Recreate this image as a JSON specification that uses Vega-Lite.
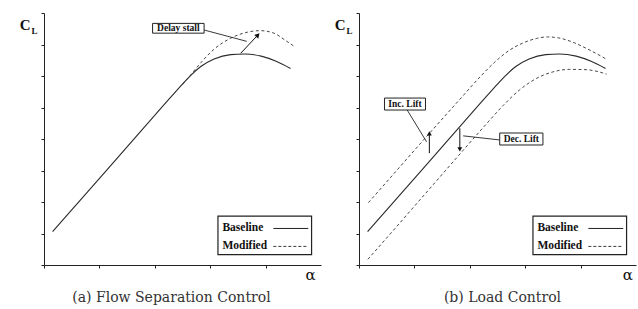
{
  "$schema": "https://vega.github.io/schema/vega-lite/v6.json",
  "padding": {"left": 19, "top": 12, "right": 3, "bottom": 0},
  "background": "white",
  "bounds": "flush",
  "spacing": 38,
  "config": {
    "view": {"stroke": null},
    "axis": {"labels": false, "title": null, "grid": false, "domainColor": "#222", "tickColor": "#222", "tickSize": 3, "domainWidth": 1, "tickWidth": 1},
    "text": {"font": "Liberation Serif", "color": "#111"}
  },
  "datasets": {
    "curves": [
      {"panel": "a", "series": "Baseline", "x": 0.155, "y": 1.06},
      {"panel": "a", "series": "Baseline", "x": 0.6, "y": 1.95},
      {"panel": "a", "series": "Baseline", "x": 1.2, "y": 3.15},
      {"panel": "a", "series": "Baseline", "x": 1.8, "y": 4.35},
      {"panel": "a", "series": "Baseline", "x": 2.3, "y": 5.35},
      {"panel": "a", "series": "Baseline", "x": 2.5, "y": 5.74},
      {"panel": "a", "series": "Baseline", "x": 2.65, "y": 6.02},
      {"panel": "a", "series": "Baseline", "x": 2.83, "y": 6.3},
      {"panel": "a", "series": "Baseline", "x": 3.07, "y": 6.54},
      {"panel": "a", "series": "Baseline", "x": 3.37, "y": 6.68},
      {"panel": "a", "series": "Baseline", "x": 3.62, "y": 6.7},
      {"panel": "a", "series": "Baseline", "x": 3.92, "y": 6.63},
      {"panel": "a", "series": "Baseline", "x": 4.2, "y": 6.46},
      {"panel": "a", "series": "Baseline", "x": 4.45, "y": 6.24},
      {"panel": "a", "series": "Modified", "x": 2.5, "y": 5.74},
      {"panel": "a", "series": "Modified", "x": 2.65, "y": 6.04},
      {"panel": "a", "series": "Modified", "x": 2.83, "y": 6.42},
      {"panel": "a", "series": "Modified", "x": 3.07, "y": 6.85},
      {"panel": "a", "series": "Modified", "x": 3.37, "y": 7.2},
      {"panel": "a", "series": "Modified", "x": 3.67, "y": 7.39},
      {"panel": "a", "series": "Modified", "x": 3.9, "y": 7.44},
      {"panel": "a", "series": "Modified", "x": 4.15, "y": 7.36},
      {"panel": "a", "series": "Modified", "x": 4.35, "y": 7.14},
      {"panel": "a", "series": "Modified", "x": 4.5, "y": 6.96},
      {"panel": "b", "series": "Baseline", "x": 0.155, "y": 1.06},
      {"panel": "b", "series": "Baseline", "x": 0.6, "y": 1.95},
      {"panel": "b", "series": "Baseline", "x": 1.2, "y": 3.15},
      {"panel": "b", "series": "Baseline", "x": 1.8, "y": 4.35},
      {"panel": "b", "series": "Baseline", "x": 2.3, "y": 5.35},
      {"panel": "b", "series": "Baseline", "x": 2.5, "y": 5.74},
      {"panel": "b", "series": "Baseline", "x": 2.65, "y": 6.02},
      {"panel": "b", "series": "Baseline", "x": 2.83, "y": 6.3},
      {"panel": "b", "series": "Baseline", "x": 3.07, "y": 6.54},
      {"panel": "b", "series": "Baseline", "x": 3.37, "y": 6.68},
      {"panel": "b", "series": "Baseline", "x": 3.62, "y": 6.7},
      {"panel": "b", "series": "Baseline", "x": 3.92, "y": 6.63},
      {"panel": "b", "series": "Baseline", "x": 4.2, "y": 6.46},
      {"panel": "b", "series": "Baseline", "x": 4.45, "y": 6.24},
      {"panel": "b", "series": "Increased", "x": 0.17, "y": 1.98},
      {"panel": "b", "series": "Increased", "x": 0.6, "y": 2.84},
      {"panel": "b", "series": "Increased", "x": 1.2, "y": 4.04},
      {"panel": "b", "series": "Increased", "x": 1.8, "y": 5.22},
      {"panel": "b", "series": "Increased", "x": 2.2, "y": 6.0},
      {"panel": "b", "series": "Increased", "x": 2.45, "y": 6.44},
      {"panel": "b", "series": "Increased", "x": 2.7, "y": 6.8},
      {"panel": "b", "series": "Increased", "x": 2.95, "y": 7.04},
      {"panel": "b", "series": "Increased", "x": 3.2, "y": 7.19},
      {"panel": "b", "series": "Increased", "x": 3.4, "y": 7.24},
      {"panel": "b", "series": "Increased", "x": 3.6, "y": 7.21},
      {"panel": "b", "series": "Increased", "x": 3.85, "y": 7.08},
      {"panel": "b", "series": "Increased", "x": 4.1, "y": 6.88},
      {"panel": "b", "series": "Increased", "x": 4.48, "y": 6.52},
      {"panel": "b", "series": "Decreased", "x": 0.16, "y": 0.18},
      {"panel": "b", "series": "Decreased", "x": 0.6, "y": 1.06},
      {"panel": "b", "series": "Decreased", "x": 1.2, "y": 2.27},
      {"panel": "b", "series": "Decreased", "x": 1.82, "y": 3.52},
      {"panel": "b", "series": "Decreased", "x": 2.3, "y": 4.48},
      {"panel": "b", "series": "Decreased", "x": 2.6, "y": 5.06},
      {"panel": "b", "series": "Decreased", "x": 2.9, "y": 5.56},
      {"panel": "b", "series": "Decreased", "x": 3.2, "y": 5.92},
      {"panel": "b", "series": "Decreased", "x": 3.5, "y": 6.13},
      {"panel": "b", "series": "Decreased", "x": 3.8, "y": 6.21},
      {"panel": "b", "series": "Decreased", "x": 4.1, "y": 6.2},
      {"panel": "b", "series": "Decreased", "x": 4.47, "y": 6.06}
    ],
    "annBox": [
      {"panel": "a", "label": "Delay stall", "x": 1.96, "x2": 2.89, "y": 7.36, "y2": 7.67, "cx": 2.425, "cy": 7.515},
      {"panel": "b", "label": "Inc. Lift", "x": 0.46, "x2": 1.2, "y": 4.92, "y2": 5.3, "cx": 0.83, "cy": 5.11},
      {"panel": "b", "label": "Dec. Lift", "x": 2.54, "x2": 3.32, "y": 3.81, "y2": 4.19, "cx": 2.93, "cy": 4.0}
    ],
    "leaders": [
      {"panel": "a", "x": 2.89, "y": 7.46, "x2": 3.66, "y2": 7.1},
      {"panel": "b", "x": 0.87, "y": 4.92, "x2": 1.22, "y2": 3.91},
      {"panel": "b", "x": 2.54, "y": 3.97, "x2": 1.88, "y2": 4.1}
    ],
    "arrows": [
      {"panel": "a", "dir": "diag", "x": 3.55, "y": 6.72, "x2": 3.86, "y2": 7.3},
      {"panel": "b", "dir": "up", "x": 1.27, "y": 3.55, "x2": 1.27, "y2": 4.18},
      {"panel": "b", "dir": "down", "x": 1.82, "y": 4.34, "x2": 1.82, "y2": 3.67}
    ],
    "legendBox": [{"x": 3.14, "x2": 4.83, "y": 0.33, "y2": 1.55}],
    "legendItems": [
      {"label": "Baseline", "kind": "solid", "x": 3.22, "y": 1.16, "sx": 4.14, "sx2": 4.77},
      {"label": "Modified", "kind": "dashed", "x": 3.22, "y": 0.59, "sx": 4.14, "sx2": 4.77}
    ],
    "labels": [
      {"panel": "a", "role": "C", "text": "C", "x": -0.34, "y": 7.62},
      {"panel": "a", "role": "L", "text": "L", "x": -0.17, "y": 7.42},
      {"panel": "a", "role": "alpha", "text": "α", "x": 4.81, "y": -0.32},
      {"panel": "a", "role": "caption", "text": "(a) Flow Separation Control", "x": 2.3, "y": -1.04},
      {"panel": "b", "role": "C", "text": "C", "x": -0.34, "y": 7.62},
      {"panel": "b", "role": "L", "text": "L", "x": -0.17, "y": 7.42},
      {"panel": "b", "role": "alpha", "text": "α", "x": 4.85, "y": -0.32},
      {"panel": "b", "role": "caption", "text": "(b) Load Control", "x": 2.59, "y": -1.04}
    ]
  },
  "hconcat": [
    {
      "width": 277,
      "height": 252,
      "encoding": {
        "x": {"field": "x", "type": "quantitative", "scale": {"domain": [0, 5], "nice": false, "zero": false}, "axis": {"values": [0, 1, 2, 3, 4]}},
        "y": {"field": "y", "type": "quantitative", "scale": {"domain": [0, 8], "nice": false, "zero": false}, "axis": {"values": [0, 1, 2, 3, 4, 5, 6, 7, 8]}}
      },
      "layer": [
        {"data": {"name": "legendBox"}, "mark": {"type": "rect", "fill": "white", "stroke": "#222", "strokeWidth": 1.2}, "encoding": {"x2": {"field": "x2"}, "y2": {"field": "y2"}}},
        {"data": {"name": "legendItems"}, "mark": {"type": "text", "align": "left", "baseline": "middle", "fontWeight": "bold", "fontSize": 11.5}, "encoding": {"text": {"field": "label"}}},
        {"data": {"name": "legendItems"}, "transform": [{"filter": "datum.kind == 'solid'"}], "mark": {"type": "rule", "stroke": "#222", "strokeWidth": 1}, "encoding": {"x": {"field": "sx"}, "x2": {"field": "sx2"}}},
        {"data": {"name": "legendItems"}, "transform": [{"filter": "datum.kind == 'dashed'"}], "mark": {"type": "rule", "stroke": "#222", "strokeWidth": 0.9, "strokeDash": [3, 2]}, "encoding": {"x": {"field": "sx"}, "x2": {"field": "sx2"}}},
        {"data": {"name": "curves"}, "transform": [{"filter": "datum.panel == 'a' && datum.series == 'Baseline'"}], "mark": {"type": "line", "interpolate": "monotone", "stroke": "#2a2a2a", "strokeWidth": 1.1}},
        {"data": {"name": "curves"}, "transform": [{"filter": "datum.panel == 'a' && datum.series != 'Baseline'"}], "mark": {"type": "line", "interpolate": "monotone", "stroke": "#333", "strokeWidth": 0.9, "strokeDash": [3, 2.5]}, "encoding": {"detail": {"field": "series"}}},
        {"data": {"name": "leaders"}, "transform": [{"filter": "datum.panel == 'a'"}], "mark": {"type": "rule", "stroke": "#222", "strokeWidth": 0.9}, "encoding": {"x2": {"field": "x2"}, "y2": {"field": "y2"}}},
        {"data": {"name": "annBox"}, "transform": [{"filter": "datum.panel == 'a'"}], "mark": {"type": "rect", "fill": "white", "stroke": "#222", "strokeWidth": 1}, "encoding": {"x2": {"field": "x2"}, "y2": {"field": "y2"}}},
        {"data": {"name": "annBox"}, "transform": [{"filter": "datum.panel == 'a'"}], "mark": {"type": "text", "align": "center", "baseline": "middle", "fontWeight": "bold", "fontSize": 9.5}, "encoding": {"x": {"field": "cx"}, "y": {"field": "cy"}, "text": {"field": "label"}}},
        {"data": {"name": "arrows"}, "transform": [{"filter": "datum.panel == 'a'"}], "mark": {"type": "rule", "stroke": "#111", "strokeWidth": 1}, "encoding": {"x2": {"field": "x2"}, "y2": {"field": "y2"}}},
        {"data": {"name": "arrows"}, "transform": [{"filter": "datum.panel == 'a'"}], "mark": {"type": "point", "shape": "triangle-up", "filled": true, "size": 30, "color": "#111", "opacity": 1, "angle": 43}, "encoding": {"x": {"field": "x2"}, "y": {"field": "y2"}}},
        {"data": {"name": "labels"}, "transform": [{"filter": "datum.panel == 'a' && datum.role == 'C'"}], "mark": {"type": "text", "align": "center", "baseline": "middle", "fontWeight": "bold", "fontSize": 15}, "encoding": {"text": {"field": "text"}}},
        {"data": {"name": "labels"}, "transform": [{"filter": "datum.panel == 'a' && datum.role == 'L'"}], "mark": {"type": "text", "align": "center", "baseline": "middle", "fontWeight": "bold", "fontSize": 9}, "encoding": {"text": {"field": "text"}}},
        {"data": {"name": "labels"}, "transform": [{"filter": "datum.panel == 'a' && datum.role == 'alpha'"}], "mark": {"type": "text", "align": "center", "baseline": "middle", "font": "DejaVu Serif", "fontSize": 15}, "encoding": {"text": {"field": "text"}}},
        {"data": {"name": "labels"}, "transform": [{"filter": "datum.panel == 'a' && datum.role == 'caption'"}], "mark": {"type": "text", "align": "center", "baseline": "middle", "font": "DejaVu Serif", "fontSize": 14, "color": "#333"}, "encoding": {"text": {"field": "text"}}}
      ]
    },
    {
      "width": 277,
      "height": 252,
      "encoding": {
        "x": {"field": "x", "type": "quantitative", "scale": {"domain": [0, 5], "nice": false, "zero": false}, "axis": {"values": [0, 1, 2, 3, 4]}},
        "y": {"field": "y", "type": "quantitative", "scale": {"domain": [0, 8], "nice": false, "zero": false}, "axis": {"values": [0, 1, 2, 3, 4, 5, 6, 7, 8]}}
      },
      "layer": [
        {"data": {"name": "legendBox"}, "mark": {"type": "rect", "fill": "white", "stroke": "#222", "strokeWidth": 1.2}, "encoding": {"x2": {"field": "x2"}, "y2": {"field": "y2"}}},
        {"data": {"name": "legendItems"}, "mark": {"type": "text", "align": "left", "baseline": "middle", "fontWeight": "bold", "fontSize": 11.5}, "encoding": {"text": {"field": "label"}}},
        {"data": {"name": "legendItems"}, "transform": [{"filter": "datum.kind == 'solid'"}], "mark": {"type": "rule", "stroke": "#222", "strokeWidth": 1}, "encoding": {"x": {"field": "sx"}, "x2": {"field": "sx2"}}},
        {"data": {"name": "legendItems"}, "transform": [{"filter": "datum.kind == 'dashed'"}], "mark": {"type": "rule", "stroke": "#222", "strokeWidth": 0.9, "strokeDash": [3, 2]}, "encoding": {"x": {"field": "sx"}, "x2": {"field": "sx2"}}},
        {"data": {"name": "curves"}, "transform": [{"filter": "datum.panel == 'b' && datum.series == 'Baseline'"}], "mark": {"type": "line", "interpolate": "monotone", "stroke": "#2a2a2a", "strokeWidth": 1.1}},
        {"data": {"name": "curves"}, "transform": [{"filter": "datum.panel == 'b' && datum.series != 'Baseline'"}], "mark": {"type": "line", "interpolate": "monotone", "stroke": "#333", "strokeWidth": 0.9, "strokeDash": [3, 2.5]}, "encoding": {"detail": {"field": "series"}}},
        {"data": {"name": "leaders"}, "transform": [{"filter": "datum.panel == 'b'"}], "mark": {"type": "rule", "stroke": "#222", "strokeWidth": 0.9}, "encoding": {"x2": {"field": "x2"}, "y2": {"field": "y2"}}},
        {"data": {"name": "annBox"}, "transform": [{"filter": "datum.panel == 'b'"}], "mark": {"type": "rect", "fill": "white", "stroke": "#222", "strokeWidth": 1}, "encoding": {"x2": {"field": "x2"}, "y2": {"field": "y2"}}},
        {"data": {"name": "annBox"}, "transform": [{"filter": "datum.panel == 'b'"}], "mark": {"type": "text", "align": "center", "baseline": "middle", "fontWeight": "bold", "fontSize": 9.5}, "encoding": {"x": {"field": "cx"}, "y": {"field": "cy"}, "text": {"field": "label"}}},
        {"data": {"name": "arrows"}, "transform": [{"filter": "datum.panel == 'b'"}], "mark": {"type": "rule", "stroke": "#111", "strokeWidth": 1}, "encoding": {"x2": {"field": "x2"}, "y2": {"field": "y2"}}},
        {"data": {"name": "arrows"}, "transform": [{"filter": "datum.panel == 'b' && datum.dir == 'up'"}], "mark": {"type": "point", "shape": "triangle-up", "filled": true, "size": 24, "color": "#111", "opacity": 1}, "encoding": {"x": {"field": "x2"}, "y": {"field": "y2"}}},
        {"data": {"name": "arrows"}, "transform": [{"filter": "datum.panel == 'b' && datum.dir == 'down'"}], "mark": {"type": "point", "shape": "triangle-down", "filled": true, "size": 24, "color": "#111", "opacity": 1}, "encoding": {"x": {"field": "x2"}, "y": {"field": "y2"}}},
        {"data": {"name": "labels"}, "transform": [{"filter": "datum.panel == 'b' && datum.role == 'C'"}], "mark": {"type": "text", "align": "center", "baseline": "middle", "fontWeight": "bold", "fontSize": 15}, "encoding": {"text": {"field": "text"}}},
        {"data": {"name": "labels"}, "transform": [{"filter": "datum.panel == 'b' && datum.role == 'L'"}], "mark": {"type": "text", "align": "center", "baseline": "middle", "fontWeight": "bold", "fontSize": 9}, "encoding": {"text": {"field": "text"}}},
        {"data": {"name": "labels"}, "transform": [{"filter": "datum.panel == 'b' && datum.role == 'alpha'"}], "mark": {"type": "text", "align": "center", "baseline": "middle", "font": "DejaVu Serif", "fontSize": 15}, "encoding": {"text": {"field": "text"}}},
        {"data": {"name": "labels"}, "transform": [{"filter": "datum.panel == 'b' && datum.role == 'caption'"}], "mark": {"type": "text", "align": "center", "baseline": "middle", "font": "DejaVu Serif", "fontSize": 14, "color": "#333"}, "encoding": {"text": {"field": "text"}}}
      ]
    }
  ]
}
